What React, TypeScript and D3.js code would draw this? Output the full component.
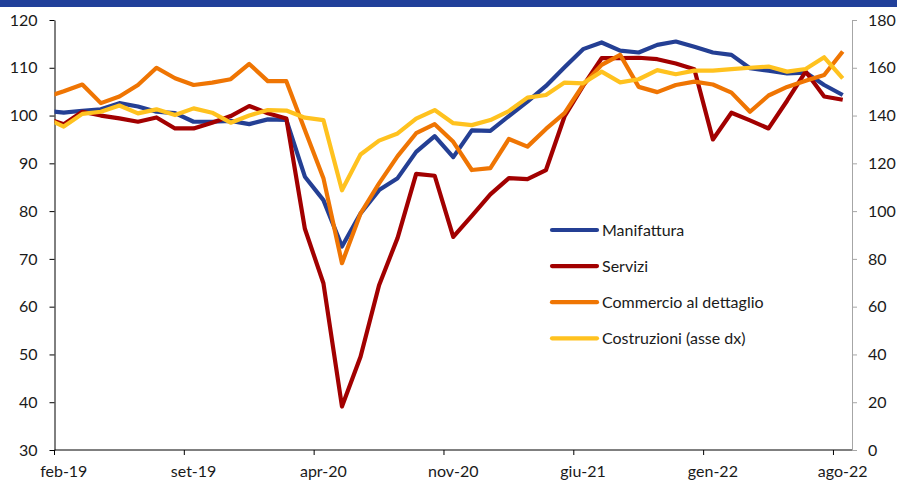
import React, { useEffect, useRef } from "react";
import * as d3 from "d3";

// months: gen-19 is only partly visible (clipped at the left edge)
const months = [
	"gen-19", "feb-19", "mar-19", "apr-19", "mag-19", "giu-19", "lug-19", "ago-19", "set-19", "ott-19", "nov-19", "dic-19",
	"gen-20", "feb-20", "mar-20", "apr-20", "mag-20", "giu-20", "lug-20", "ago-20", "set-20", "ott-20", "nov-20", "dic-20",
	"gen-21", "feb-21", "mar-21", "apr-21", "mag-21", "giu-21", "lug-21", "ago-21", "set-21", "ott-21", "nov-21", "dic-21",
	"gen-22", "feb-22", "mar-22", "apr-22", "mag-22", "giu-22", "lug-22", "ago-22"
];
const tickLabels = ["feb-19", "set-19", "apr-20", "nov-20", "giu-21", "gen-22", "ago-22"];

const manifattura = [
	101.0, 100.6, 101.0, 101.3, 102.6, 101.9, 100.8, 100.5, 98.7, 98.7, 98.9, 98.2, 99.2,
	99.1, 87.2, 82.3, 72.6, 79.5, 84.4, 86.9, 92.4, 95.7, 91.3, 96.9, 96.8, 99.9, 102.9,
	106.2, 110.1, 113.9, 115.3, 113.6, 113.2, 114.8, 115.5, 114.4, 113.2, 112.7, 109.9,
	109.4, 108.8, 109.0, 106.4, 104.3
];
const servizi = [
	99.5, 98.2, 100.8, 100.0, 99.4, 98.7, 99.6, 97.3, 97.3, 98.5, 99.9, 102.0, 100.5,
	99.4, 76.3, 64.9, 39.1, 49.5, 64.5, 74.4, 87.8, 87.4, 74.6, 79.0, 83.5, 86.9, 86.7,
	88.6, 99.8, 106.2, 112.0, 112.0, 112.1, 111.8, 110.9, 109.7, 95.0, 100.6, 99.0,
	97.3, 103.1, 109.2, 104.0, 103.3
];
const commercio = [
	103.8, 105.1, 106.5, 102.6, 104.0, 106.4, 110.0, 107.8, 106.4, 106.9, 107.6, 110.8, 107.2,
	107.2, 97.0, 86.9, 69.1, 79.5, 85.8, 91.5, 96.3, 98.2, 94.5, 88.6, 89.0, 95.1, 93.5,
	97.2, 100.5, 106.4, 110.6, 112.7, 106.0, 104.9, 106.4, 107.1, 106.5, 104.8, 100.8,
	104.2, 106.0, 107.3, 108.5, 113.4
];
// asse dx
const costruzioni = [
	139.0, 135.4, 140.7, 141.6, 144.2, 140.9, 142.6, 140.2, 143.0, 141.2, 137.0, 140.0, 142.3,
	142.1, 139.1, 138.1, 108.7, 123.7, 129.5, 132.5, 138.7, 142.3, 136.8, 136.0, 138.1, 141.9, 147.5,
	148.6, 153.8, 153.5, 158.4, 153.9, 155.2, 159.0, 157.3, 158.8, 158.8, 159.4, 160.0,
	160.5, 158.4, 159.5, 164.4, 155.6
];

const seriesNames = ["Manifattura", "Servizi", "Commercio al dettaglio", "Costruzioni (asse dx)"];
const seriesColors = ["#243f94", "#a20000", "#ef7503", "#ffc21f"];
const leftTicks = [30, 40, 50, 60, 70, 80, 90, 100, 110, 120];
const rightTicks = [0, 20, 40, 60, 80, 100, 120, 140, 160, 180];

const W = 897;
const H = 481;
const FONT = "Lato, 'Open Sans', sans-serif";

function App() {
	const ref = useRef<SVGSVGElement | null>(null);

	useEffect(() => {
		document.body.style.margin = "0";
		const svg = d3.select(ref.current);
		svg.selectAll("*").remove();

		const left = 54.5, right = 852, top = 20, bottom = 450;

		const x = d3.scaleLinear().domain([0.5, months.length - 0.5]).range([left, right]);
		const yL = d3.scaleLinear().domain([30, 120]).range([bottom, top]);
		const yR = d3.scaleLinear().domain([0, 180]).range([bottom, top]);

		// top band
		svg.append("rect").attr("x", 0).attr("y", 0).attr("width", W).attr("height", 7).attr("fill", "#21409a");

		svg.append("defs").append("clipPath").attr("id", "plotClip")
			.append("rect").attr("x", left).attr("y", 0).attr("width", right - left).attr("height", H);

		// left axis
		const gl = svg.append("g").attr("transform", `translate(${left},0)`)
			.call(d3.axisLeft(yL).tickValues(leftTicks).tickSize(5).tickSizeOuter(0).tickPadding(12));
		gl.select(".domain").attr("stroke", "#000");
		gl.selectAll(".tick line").attr("stroke", "#000");

		// right axis
		const gr = svg.append("g").attr("transform", `translate(${right},0)`)
			.call(d3.axisRight(yR).tickValues(rightTicks).tickSize(5).tickSizeOuter(0).tickPadding(11));
		gr.select(".domain").attr("stroke", "#a6a6a6");
		gr.selectAll(".tick line").attr("stroke", "#a6a6a6");

		[gl, gr].forEach((g) => {
			g.selectAll(".tick text").attr("font-family", FONT).attr("font-size", 16).attr("fill", "#1a1a1a");
		});

		// bottom axis
		const ga = svg.append("g");
		ga.append("line").attr("x1", left).attr("x2", right).attr("y1", bottom).attr("y2", bottom)
			.attr("stroke", "#000");
		tickLabels.forEach((lab) => {
			const i = months.indexOf(lab);
			ga.append("line").attr("x1", x(i - 0.5)).attr("x2", x(i - 0.5))
				.attr("y1", bottom).attr("y2", bottom + 5).attr("stroke", "#000");
			ga.append("text").attr("x", x(i)).attr("y", 477).attr("text-anchor", "middle")
				.attr("font-family", FONT).attr("font-size", 16).attr("fill", "#1a1a1a").text(lab);
		});

		// lines
		const all = [manifattura, servizi, commercio, costruzioni];
		const plot = svg.append("g").attr("clip-path", "url(#plotClip)");
		all.forEach((vals, s) => {
			const yScale = s === 3 ? yR : yL;
			const line = d3.line<number>()
				.x((d, i) => x(i))
				.y((d) => yScale(d));
			plot.append("path")
				.attr("d", line(vals))
				.attr("fill", "none")
				.attr("stroke", seriesColors[s])
				.attr("stroke-width", 4.2)
				.attr("stroke-linejoin", "round");
		});

		// legend
		const lg = svg.append("g");
		seriesNames.forEach((name, s) => {
			const ly = 230 + s * 36.1;
			lg.append("line").attr("x1", 552).attr("x2", 597).attr("y1", ly).attr("y2", ly)
				.attr("stroke", seriesColors[s]).attr("stroke-width", 4.2).attr("stroke-linecap", "round");
			lg.append("text").attr("x", 602).attr("y", ly).attr("dy", "0.35em")
				.attr("font-family", FONT).attr("font-size", 16).attr("fill", "#1a1a1a").text(name);
		});
	}, []);

	return (
		<div>
			<svg ref={ref} width={W} height={H} style={{ display: "block", background: "#fff" }}></svg>
		</div>
	);
}
export default App;
